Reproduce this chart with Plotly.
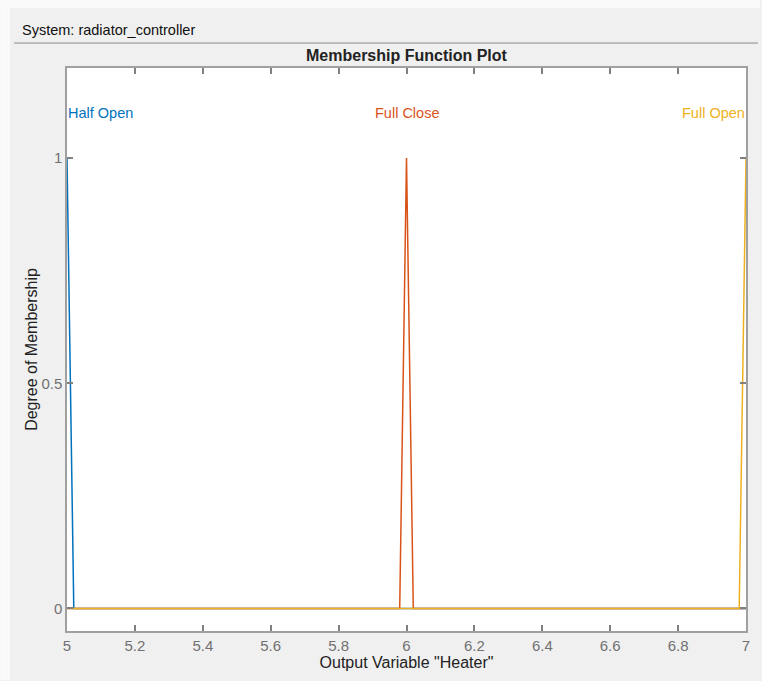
import plotly.graph_objects as go

# Membership function data (output variable "Heater", range [5, 7])
half_open_x = [5.0, 5.02, 7.0]
half_open_y = [1.0, 0.0, 0.0]
full_close_x = [5.0, 5.98, 6.0, 6.02, 7.0]
full_close_y = [0.0, 0.0, 1.0, 0.0, 0.0]
full_open_x = [5.0, 6.98, 7.0]
full_open_y = [0.0, 0.0, 1.0]

mf_names = ["Half Open", "Full Close", "Full Open"]
label_x = [5.0, 6.0, 7.0]
label_anchor = ["left", "center", "right"]
colors = ["#0072BD", "#D95319", "#EDB120"]

x_ticks = [5, 5.2, 5.4, 5.6, 5.8, 6, 6.2, 6.4, 6.6, 6.8, 7]
x_tick_text = ["5", "5.2", "5.4", "5.6", "5.8", "6", "6.2", "6.4", "6.6", "6.8", "7"]
y_ticks = [0, 0.5, 1]
y_tick_text = ["0", "0.5", "1"]

W, H = 762, 681
ml, mr, mt, mb = 67, 14, 68, 49
pw, ph = W - ml - mr, H - mt - mb

def px_x(p):
    return (p - ml) / pw

def px_y(p):
    return (H - mb - p) / ph

FONT = "Liberation Sans, Arial"

fig = go.Figure()
series = [(half_open_x, half_open_y), (full_close_x, full_close_y), (full_open_x, full_open_y)]
for (xs, ys), name, c in zip(series, mf_names, colors):
    fig.add_trace(go.Scatter(x=xs, y=ys, mode="lines", name=name,
                             line=dict(color=c, width=1.5), showlegend=False,
                             hoverinfo="skip"))

for name, lx, anc, c in zip(mf_names, label_x, label_anchor, colors):
    fig.add_annotation(x=lx, y=1.1, text=name, showarrow=False, xanchor=anc,
                       yanchor="middle", borderpad=0,
                       font=dict(color=c, size=14.5, family=FONT))

axis_common = dict(showgrid=False, zeroline=False, showline=True, linecolor="#a0a0a0",
                   linewidth=1.5, mirror="ticks", ticks="inside", ticklen=6,
                   tickcolor="#808080", tickwidth=1.5,
                   tickfont=dict(size=15, color="#707070", family=FONT))

fig.update_layout(
    width=W, height=H,
    margin=dict(l=ml, r=mr, t=mt, b=mb),
    paper_bgcolor="#f0f0f0", plot_bgcolor="white",
    font=dict(family=FONT, color="#222222"),
    xaxis=dict(range=[5, 7], tickvals=x_ticks, ticktext=x_tick_text,
               title=dict(text='Output Variable "Heater"', font=dict(size=16, color="#222222"), standoff=4),
               **axis_common),
    yaxis=dict(range=[-0.05, 1.2], tickvals=y_ticks, ticktext=y_tick_text,
               title=dict(text="Degree of Membership", font=dict(size=16, color="#222222"), standoff=0),
               **axis_common),
    shapes=[
        dict(type="rect", xref="paper", yref="paper", x0=px_x(0), x1=px_x(W), y0=px_y(0), y1=px_y(8),
             fillcolor="#fafafa", line=dict(width=0), layer="below"),
        dict(type="rect", xref="paper", yref="paper", x0=px_x(0), x1=px_x(10), y0=px_y(0), y1=px_y(H),
             fillcolor="#fafafa", line=dict(width=0), layer="below"),
        dict(type="line", xref="paper", yref="paper", x0=px_x(14), x1=px_x(760), y0=px_y(43), y1=px_y(43),
             line=dict(color="#8a8a8a", width=1)),
    ],
)
fig.add_annotation(xref="paper", yref="paper", x=px_x(21), y=px_y(30), text="System: radiator_controller",
                   showarrow=False, xanchor="left", yanchor="middle", borderpad=0,
                   font=dict(size=14.5, color="#111111", family=FONT))
fig.add_annotation(xref="paper", yref="paper", x=0.5, y=px_y(55), text="<b>Membership Function Plot</b>",
                   showarrow=False, xanchor="center", yanchor="middle",
                   font=dict(size=16, color="#222222", family=FONT))

fig.write_html("out.html")
